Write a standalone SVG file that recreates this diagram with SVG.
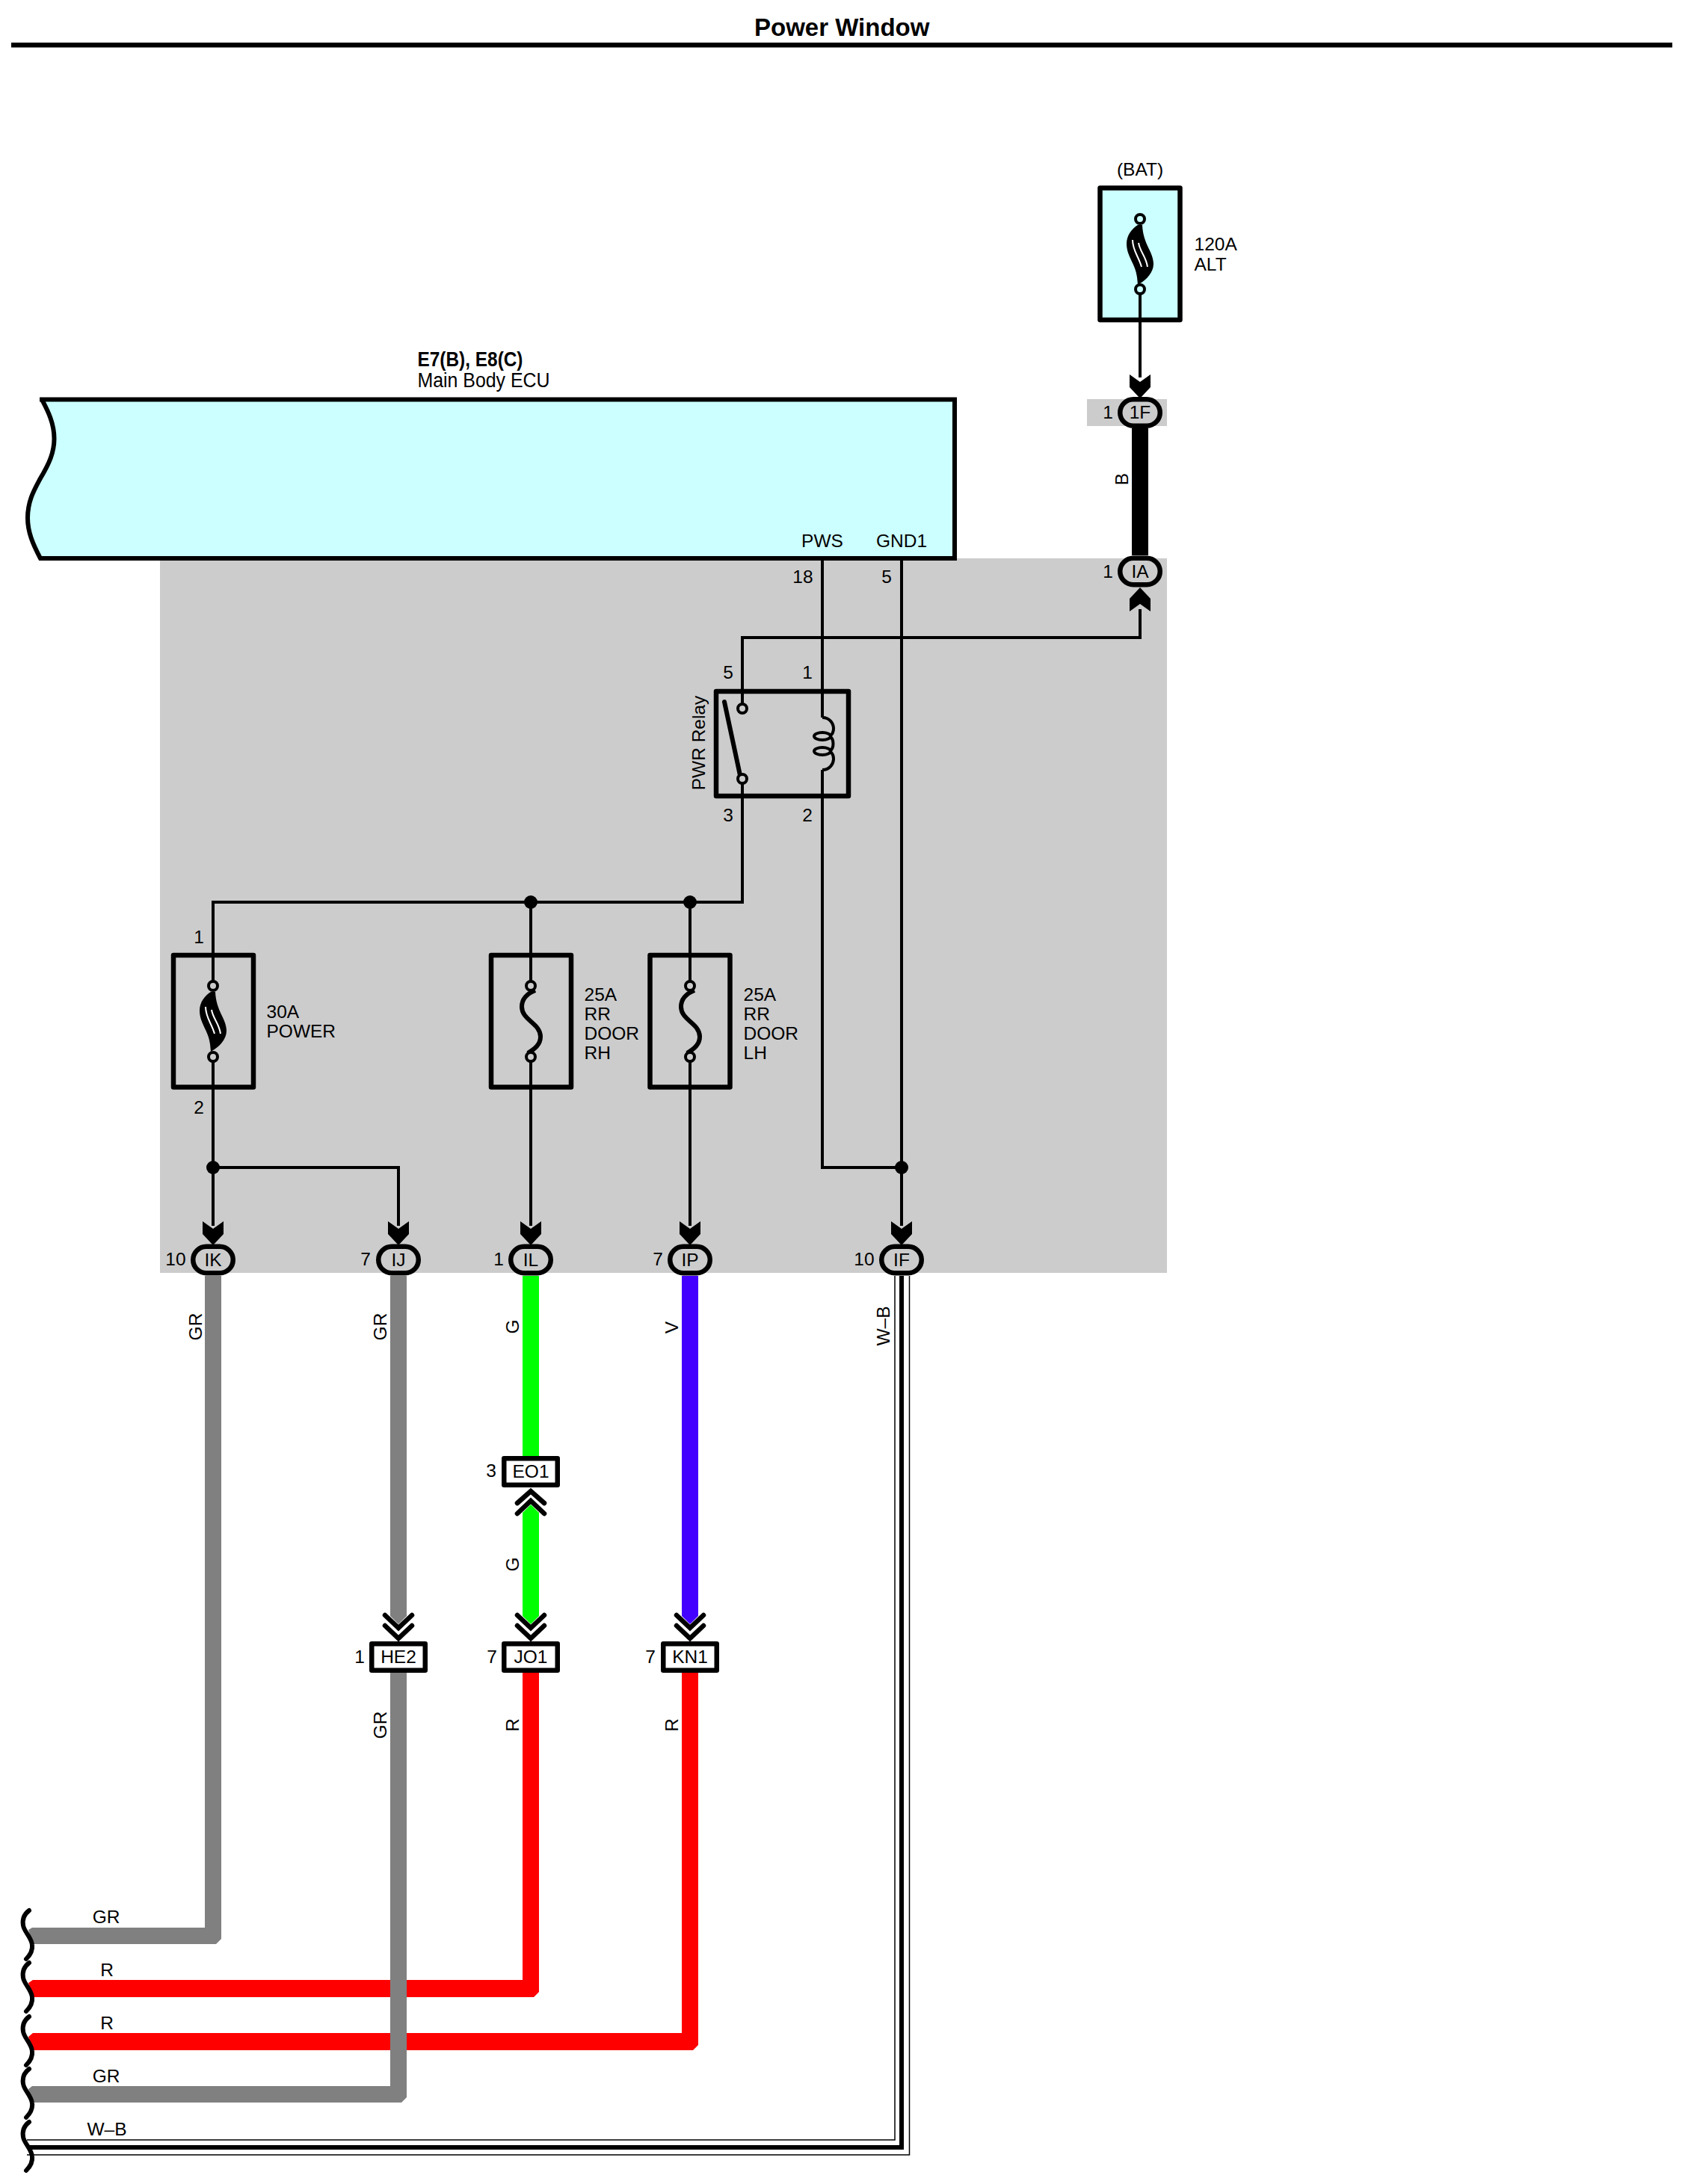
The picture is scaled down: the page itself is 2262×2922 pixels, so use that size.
<svg xmlns="http://www.w3.org/2000/svg" xmlns:xlink="http://www.w3.org/1999/xlink" width="2262" height="2922" viewBox="0 0 2262 2922">
<style>
text{font-family:"Liberation Sans",Arial,sans-serif;font-size:24.5px;fill:#000}
.m{text-anchor:middle}
.title{font-size:33px;font-weight:bold}
.wire{fill:none;stroke:#000;stroke-width:4}
.box{stroke:#000;stroke-width:6.5;stroke-linejoin:round}
.conn{stroke:#000;stroke-width:6.5;fill:#fff;stroke-linejoin:round}
.oval{stroke:#000;stroke-width:6.5;fill:#ccc}
.term{stroke:#000;stroke-width:4}
.sq{fill:none;stroke:#000;stroke-width:6;stroke-linecap:round}
.chev{fill:none;stroke:#000;stroke-width:6.5;stroke-linecap:round}
.dot{fill:#000}
</style>
<defs>
<g id="heavy">
<path d="M-3 8C-11 13-18 22-18 33C-18 50-6 60-4 78L-3 88C8 82 18 72 18 60C18 44 4 34 3 8Z" fill="#000"/>
<path d="M-10 28C-10 42-2 50 2 64M-2 32C0 44 8 50 10 64" fill="none" stroke="#fff" stroke-width="2"/>
</g>
<path id="thin" d="M6 6C-4 10-12 16-12 28C-12 46 13 50 13 68C13 78 6 84-4 90" fill="none" stroke="#000" stroke-width="6"/>
<path id="arrow" d="M-14 0L0 10L14 0V17L0 32L-14 17Z" fill="#000"/>
<path id="squig" class="sq" d="M39-34C31-28 30-20 31-14C32-6 42 2 43 12C44 20 40 26 35 31"/>
</defs>
<rect width="2262" height="2922" fill="#fff"/>
<g id="shading">
<rect x="214" y="747" width="1347" height="956" fill="#ccc"/>
<rect x="1454" y="534" width="107" height="36" fill="#ccc"/>
</g>
<g id="title">
<text class="title" x="1009" y="48">Power Window</text>
<rect x="15" y="57" width="2222" height="6.5" fill="#000"/>
</g>
<g id="ecu">
<path d="M53 534.5H1277V747H54C44 728 37 712 37 693C37 670 46 655 54 640C66 620 72.5 605 72.5 587C72.5 565 63 548 56 534.5Z" fill="#ccffff" stroke="#000" stroke-width="6"/>
<text x="558.5" y="490" font-weight="bold" style="font-size:27px" textLength="141" lengthAdjust="spacingAndGlyphs">E7(B), E8(C)</text>
<text x="558.5" y="518" style="font-size:27px" textLength="177" lengthAdjust="spacingAndGlyphs">Main Body ECU</text>
<text class="m" x="1100" y="732">PWS</text>
<text class="m" x="1206" y="732">GND1</text>
<text class="m" x="1074" y="780">18</text>
<text class="m" x="1186" y="780">5</text>
</g>
<g id="connectors">
<path d="M38 2582L43 2579H274V1707H296V2594L289 2601H44Z" fill="#808080"/>
<path d="M38 2653L44 2649H699V2238H721V2665L714 2672H44Z" fill="#f00"/>
<path d="M38 2725L44 2720H912V2238H934V2736L927 2743H44Z" fill="#f00"/>
<path d="M38 2795L43 2791H522V2238H544V2806L537 2813H44Z" fill="#808080"/>
<path d="M522 1707H544V2162L533 2173L522 2162Z" fill="#808080"/>
<path d="M699 1707H721V1948H699Z" fill="#0f0"/>
<path d="M710 2013L721 2024V2162L710 2173L699 2162V2024Z" fill="#0f0"/>
<path d="M912 1707H934V2162L923 2173L912 2162Z" fill="#40f"/>
<rect x="1514" y="573" width="22" height="170" fill="#000"/>
<path d="M36 2863H1197V1707M36 2883H1216.5V1707" fill="none" stroke="#000" stroke-width="1.5"/>
<path d="M37 2873H1206V1707" fill="none" stroke="#000" stroke-width="6"/>
<path class="wire" d="M1525 393V505M1525 815V853H993V948"/>
<path class="wire" d="M1100 750V960M1100 1030V1562H1206"/>
<path class="wire" d="M1206 750V1640"/>
<path class="wire" d="M993 1042V1207H285V1319M710 1207V1319M923 1207V1319"/>
<path class="wire" d="M285 1414V1640M285 1562H533V1640M710 1414V1640M923 1414V1640"/>
<circle class="dot" cx="710" cy="1207" r="9"/>
<circle class="dot" cx="923" cy="1207" r="9"/>
<circle class="dot" cx="285" cy="1562" r="9"/>
<circle class="dot" cx="1206" cy="1562" r="9"/>
</g>
<g id="fuse-alt">
<rect class="box" x="1471.5" y="251.5" width="107" height="176.5" fill="#ccffff"/>
<path class="wire" d="M1525 393V428"/>
<use xlink:href="#heavy" href="#heavy" x="1525" y="293"/>
<circle class="term" cx="1525" cy="293" r="6" fill="#ccffff"/>
<circle class="term" cx="1525" cy="387" r="6" fill="#ccffff"/>
<text class="m" x="1525" y="235">(BAT)</text>
<text x="1597.5" y="335">120A</text>
<text x="1597.5" y="362">ALT</text>
</g>
<g id="fuse-power">
<rect class="box" x="232" y="1278" width="107" height="176.5" fill="none"/>
<use xlink:href="#heavy" href="#heavy" x="285" y="1319"/>
<circle class="term" cx="285" cy="1319" r="6" fill="#ccc"/>
<circle class="term" cx="285" cy="1414" r="6" fill="#ccc"/>
<text class="m" x="266" y="1262">1</text>
<text class="m" x="266" y="1490">2</text>
<text x="356.5" y="1362">30A</text>
<text x="356.5" y="1388">POWER</text>
</g>
<g id="fuse-rh">
<rect class="box" x="657" y="1278" width="107" height="176.5" fill="none"/>
<use xlink:href="#thin" href="#thin" x="710" y="1319"/>
<circle class="term" cx="710" cy="1319" r="6" fill="#ccc"/>
<circle class="term" cx="710" cy="1414" r="6" fill="#ccc"/>
<text x="781.5" y="1339">25A</text>
<text x="781.5" y="1365">RR</text>
<text x="781.5" y="1391">DOOR</text>
<text x="781.5" y="1417">RH</text>
</g>
<g id="fuse-lh">
<rect class="box" x="869.5" y="1278" width="107" height="176.5" fill="none"/>
<use xlink:href="#thin" href="#thin" x="923" y="1319"/>
<circle class="term" cx="923" cy="1319" r="6" fill="#ccc"/>
<circle class="term" cx="923" cy="1414" r="6" fill="#ccc"/>
<text x="994.5" y="1339">25A</text>
<text x="994.5" y="1365">RR</text>
<text x="994.5" y="1391">DOOR</text>
<text x="994.5" y="1417">LH</text>
</g>
<g id="relay">
<rect class="box" x="958" y="925" width="177" height="140" fill="none"/>
<path d="M969 939L991 1042" fill="none" stroke="#000" stroke-width="6" stroke-linecap="round"/>
<circle class="term" cx="993" cy="948" r="6" fill="#ccc"/>
<circle class="term" cx="993" cy="1042" r="6" fill="#ccc"/>
<ellipse class="term" cx="1100" cy="985" rx="11" ry="5" fill="none"/>
<ellipse class="term" cx="1100" cy="1005" rx="11" ry="5" fill="none"/>
<path class="wire" d="M1100 960C1110 960 1115 968 1115 975C1115 979 1114 982 1110 985M1110 985C1116 989 1116 1001 1110 1005M1110 1005C1114 1008 1115 1011 1115 1015C1115 1022 1110 1030 1100 1030"/>
<text class="m" x="974" y="908">5</text>
<text class="m" x="1080" y="908">1</text>
<text class="m" x="974" y="1099">3</text>
<text class="m" x="1080" y="1099">2</text>
<text transform="translate(943 994) rotate(-90)" class="m">PWR Relay</text>
</g>
<g id="conn-1F">
<use xlink:href="#arrow" href="#arrow" x="1525" y="501"/>
<rect class="oval" x="1498.25" y="534.25" width="53.5" height="35.5" rx="17.75"/>
<text class="m" x="1525" y="560">1F</text>
<text class="m" x="1482" y="560">1</text>
</g>
<g id="conn-IA">
<use xlink:href="#arrow" href="#arrow" transform="translate(1525 818) scale(1 -1)"/>
<rect class="oval" x="1498.25" y="746.75" width="53.5" height="35.5" rx="17.75"/>
<text class="m" x="1525" y="773">IA</text>
<text class="m" x="1482" y="773">1</text>
</g>
<g id="conn-IK">
<use xlink:href="#arrow" href="#arrow" x="285" y="1634"/>
<rect class="oval" x="258.25" y="1667.75" width="53.5" height="35.5" rx="17.75"/>
<text class="m" x="285" y="1694">IK</text>
<text class="m" x="235" y="1693">10</text>
</g>
<g id="conn-IJ">
<use xlink:href="#arrow" href="#arrow" x="533" y="1634"/>
<rect class="oval" x="506.25" y="1667.75" width="53.5" height="35.5" rx="17.75"/>
<text class="m" x="533" y="1694">IJ</text>
<text class="m" x="489" y="1693">7</text>
</g>
<g id="conn-IL">
<use xlink:href="#arrow" href="#arrow" x="710" y="1634"/>
<rect class="oval" x="683.25" y="1667.75" width="53.5" height="35.5" rx="17.75"/>
<text class="m" x="710" y="1694">IL</text>
<text class="m" x="667" y="1693">1</text>
</g>
<g id="conn-IP">
<use xlink:href="#arrow" href="#arrow" x="923" y="1634"/>
<rect class="oval" x="896.25" y="1667.75" width="53.5" height="35.5" rx="17.75"/>
<text class="m" x="923" y="1694">IP</text>
<text class="m" x="880" y="1693">7</text>
</g>
<g id="conn-IF">
<use xlink:href="#arrow" href="#arrow" x="1206" y="1634"/>
<rect class="oval" x="1179.25" y="1667.75" width="53.5" height="35.5" rx="17.75"/>
<text class="m" x="1206" y="1694">IF</text>
<text class="m" x="1156" y="1693">10</text>
</g>
<g id="conn-EO1">
<rect class="conn" x="674.25" y="1951.25" width="71.5" height="35.5"/>
<text class="m" x="710" y="1977">EO1</text>
<text class="m" x="657" y="1976">3</text>
<path class="chev" d="M692 2011L710 1995L728 2011M692 2025L710 2008L728 2025"/>
</g>
<g id="conn-HE2">
<rect class="conn" x="497.25" y="2199.25" width="71.5" height="35.5"/>
<text class="m" x="533" y="2225">HE2</text>
<text class="m" x="481" y="2225">1</text>
<path class="chev" d="M515 2161L533 2178L551 2161M515 2175L533 2192L551 2175"/>
</g>
<g id="conn-JO1">
<rect class="conn" x="674.25" y="2199.25" width="71.5" height="35.5"/>
<text class="m" x="710" y="2225">JO1</text>
<text class="m" x="658" y="2225">7</text>
<path class="chev" d="M692 2161L710 2178L728 2161M692 2175L710 2192L728 2175"/>
</g>
<g id="conn-KN1">
<rect class="conn" x="887.25" y="2199.25" width="71.5" height="35.5"/>
<text class="m" x="923" y="2225">KN1</text>
<text class="m" x="870" y="2225">7</text>
<path class="chev" d="M905 2161L923 2178L941 2161M905 2175L923 2192L941 2175"/>
</g>
<g id="wire-labels">
<text class="m" transform="translate(1509 641) rotate(-90)">B</text>
<text class="m" transform="translate(270 1775) rotate(-90)">GR</text>
<text class="m" transform="translate(517 1775) rotate(-90)">GR</text>
<text class="m" transform="translate(694 1775) rotate(-90)">G</text>
<text class="m" transform="translate(907 1776) rotate(-90)">V</text>
<text class="m" transform="translate(1190 1774) rotate(-90)">W–B</text>
<text class="m" transform="translate(694 2093) rotate(-90)">G</text>
<text class="m" transform="translate(517 2308) rotate(-90)">GR</text>
<text class="m" transform="translate(694 2308) rotate(-90)">R</text>
<text class="m" transform="translate(907 2308) rotate(-90)">R</text>
<text class="m" x="142" y="2573">GR</text>
<text class="m" x="143" y="2644">R</text>
<text class="m" x="143" y="2715">R</text>
<text class="m" x="142" y="2786">GR</text>
<text class="m" x="143" y="2857">W–B</text>
</g>
<g id="break-marks">
<use xlink:href="#squig" href="#squig" x="0" y="2590"/>
<use xlink:href="#squig" href="#squig" x="0" y="2660"/>
<use xlink:href="#squig" href="#squig" x="0" y="2732"/>
<use xlink:href="#squig" href="#squig" x="0" y="2802"/>
<use xlink:href="#squig" href="#squig" x="0" y="2873"/>
</g>
</svg>
